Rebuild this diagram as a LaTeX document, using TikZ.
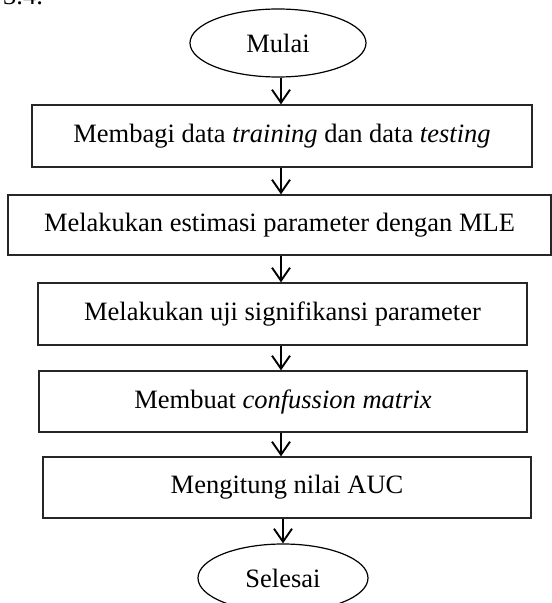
\documentclass[tikz,border=0pt]{standalone}
\usepackage{fontspec}
\setmainfont{Liberation Serif}
\usetikzlibrary{shapes.geometric,arrows.meta}

\tikzset{
  txt/.style={font=\fontsize{26.6}{30}\selectfont, text=black},
  procbox/.style={txt, draw=black!85, line width=1.3bp, rectangle, inner sep=0pt},
  terminal/.style={txt, draw=black, line width=1.2bp, ellipse, inner sep=0pt,
    minimum width=176bp, minimum height=68bp},
  flow/.style={draw=black, line width=1.9bp,
    -{Straight Barb[length=13bp,width=18bp,line width=1.9bp]}}
}

\begin{document}
\begin{tikzpicture}[x=1bp,y=-1bp]
  \useasboundingbox (0,0) rectangle (552,603);
  \clip (0,0) rectangle (552,603);

  % tail of the caption line above the chart
  \node[txt, anchor=base west, inner sep=0pt] (cap) at (3,5) {3.4.};

  % terminals and process steps
  \node[terminal] (mulai) at (278,43) {Mulai};
  \node[procbox, minimum width=500bp, minimum height=62bp] (b1) at (282,136)
    {Membagi data \textit{training} dan data \textit{testing}};
  \node[procbox, minimum width=543bp, minimum height=60bp] (b2) at (279.5,225)
    {Melakukan estimasi parameter dengan MLE};
  \node[procbox, minimum width=489bp, minimum height=62bp] (b3) at (282.5,314)
    {Melakukan uji signifikansi parameter};
  \node[procbox, minimum width=488bp, minimum height=61bp] (b4) at (283,401.5)
    {Membuat \textit{confussion matrix}};
  \node[procbox, minimum width=488bp, minimum height=61bp] (b5) at (287,487.5)
    {Mengitung nilai AUC};
  \node[terminal, minimum width=170bp] (sel) at (283,578) {Selesai};

  % vertical spine shared by the connectors
  \coordinate (axis) at (281,0);

  \draw[flow] (mulai.south -| axis) -- (b1.north -| axis);
  \draw[flow] (b1.south -| axis) -- (b2.north -| axis);
  \draw[flow] (b2.south -| axis) -- (b3.north -| axis);
  \draw[flow] (b3.south -| axis) -- (b4.north -| axis);
  \draw[flow] (b4.south -| axis) -- (b5.north -| axis);
  \draw[flow] (b5.south -| sel) -- (sel.north);
\end{tikzpicture}
\end{document}
